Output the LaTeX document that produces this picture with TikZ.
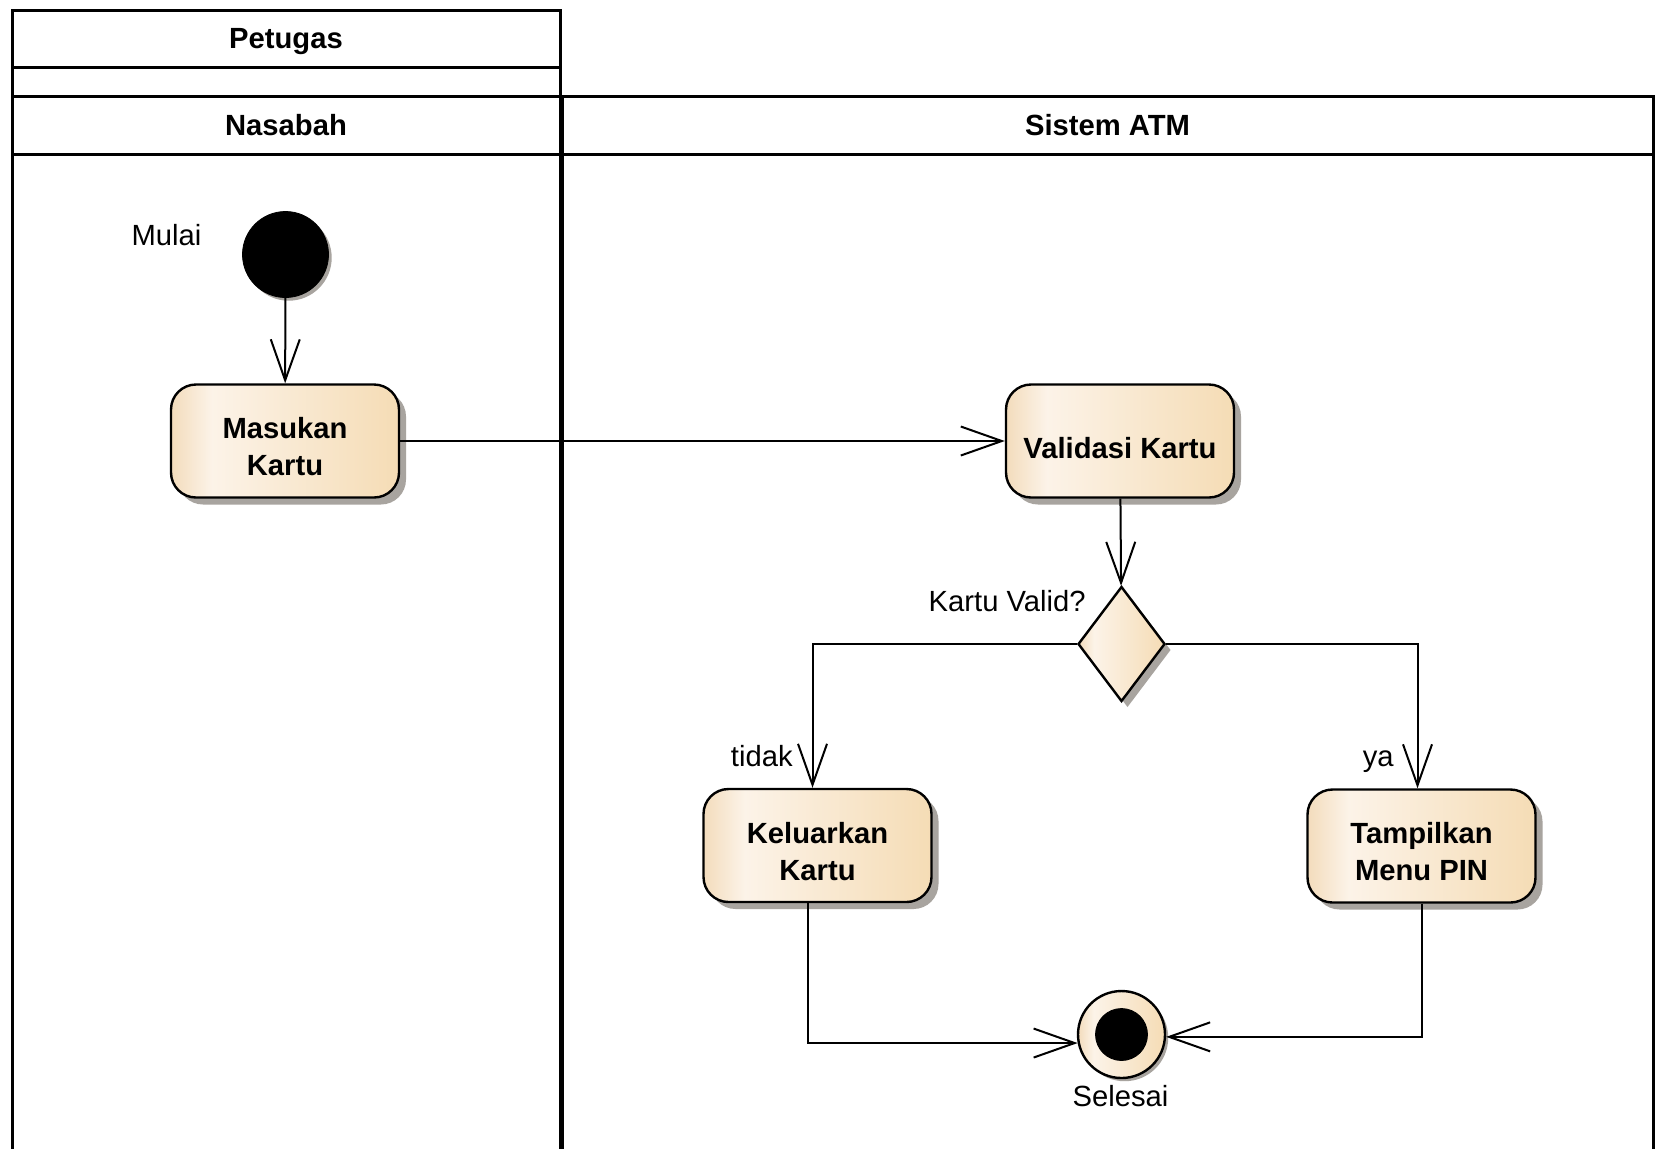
\documentclass[tikz,border=0pt]{standalone}
\usepackage{fontspec}
\setmainfont{Liberation Sans}
\usetikzlibrary{arrows.meta,shapes.geometric,shadows}

\definecolor{actleft}{RGB}{243,220,188}
\definecolor{acthigh}{RGB}{252,243,232}
\definecolor{actright}{RGB}{245,220,181}
\definecolor{shadowgray}{RGB}{168,164,159}
\pgfdeclarehorizontalshading{actfill}{100bp}{color(0bp)=(actleft); color(25bp)=(actleft); color(34bp)=(acthigh); color(75bp)=(actright); color(100bp)=(actright)}

\newcommand{\diagfont}{\fontsize{14.6pt}{18.5pt}\selectfont}

\tikzset{
  lane/.style={draw, line width=1.5pt},
  lanetitle/.style={font=\diagfont\bfseries, text height=10.5pt, text depth=0pt, inner sep=0pt},
  note/.style={font=\diagfont, inner sep=0pt},
  action/.style={draw, line width=1.2pt, rounded corners=12.5pt, shade, shading=actfill,
    minimum width=114pt, minimum height=56.5pt, inner sep=0pt,
    general shadow={fill=shadowgray, shadow xshift=3.5pt, shadow yshift=-3.5pt}},
  acttext/.style={align=center, inner sep=0pt, font=\diagfont\bfseries},
  decision/.style={diamond, draw, line width=1.2pt, shade, shading=actfill,
    minimum width=43.5pt, minimum height=57.5pt, inner sep=0pt,
    general shadow={fill=shadowgray, shadow xshift=3pt, shadow yshift=-3pt}},
  startnode/.style={circle, fill=black, draw=black, minimum size=43pt, inner sep=0pt,
    general shadow={fill=shadowgray, shadow xshift=1.6pt, shadow yshift=-1.6pt}},
  endouter/.style={circle, draw, line width=1.2pt, shade, shading=actfill, minimum size=43.5pt, inner sep=0pt,
    general shadow={fill=shadowgray, shadow xshift=1.6pt, shadow yshift=-1.6pt}},
  endinner/.style={circle, fill=black, draw=black, minimum size=26pt, inner sep=0pt},
  flow/.style={draw, line width=1pt, -{Straight Barb[length=20.5pt, width=14.5pt, line width=1pt]}}
}

\begin{document}
\begin{tikzpicture}[x=0.5pt, y=-0.5pt]
\useasboundingbox (0,0) rectangle (1657,1148);
\fill[white] (0,0) rectangle (1657,1148);

% swimlanes
\draw[lane] (12.7,10.6) rectangle (560,96);
\draw[lane] (12.7,67.6) -- (560,67.6);
\draw[lane] (12.7,96) rectangle (560,1170);
\draw[lane] (12.7,154) -- (560,154);
\draw[lane] (562,96) rectangle (1653,1170);
\draw[lane] (562,154) -- (1653,154);

\node[lanetitle] (lpetugas) at (286,38) {Petugas};
\node[lanetitle] (lnasabah) at (286,125) {Nasabah};
\node[lanetitle] (lsistem) at (1107.5,125) {Sistem ATM};

% activity nodes
\node[startnode] (start) at (285.5,254.5) {};
\node[note, anchor=base] (mulai) at (166.5,245) {Mulai};

\node[action] (mas) at (285,441) {};
\node[acttext] (mastext) at ([yshift=-3pt]mas.center) {Masukan\\Kartu};
\node[action] (val) at (1120,441) {};
\node[acttext] (valtext) at ([yshift=-3.6pt]val.center) {Validasi Kartu};
\node[decision] (dec) at (1121.5,644) {};
\node[note, anchor=base east] (decl) at (1086,611.7) {Kartu Valid?};

\node[action] (kel) at (817.5,845.5) {};
\node[acttext] (keltext) at ([yshift=-3pt]kel.center) {Keluarkan\\Kartu};
\node[action] (tam) at (1421.5,846) {};
\node[acttext] (tamtext) at ([yshift=-3pt]tam.center) {Tampilkan\\Menu PIN};

\node[endouter] (fin) at (1121.5,1034.5) {};
\node[endinner] (finin) at (fin.center) {};
\node[note, anchor=base] (selesai) at (1120.5,1106.7) {Selesai};

% guard labels
\node[note, anchor=base east] (gtidak) at (793,766.7) {tidak};
\node[note, anchor=base east] (gya) at (1394,766) {ya};

% control flow
\draw[flow] (start) -- (mas);
\draw[flow] (mas) -- (val);
\draw[flow] (val) -- (dec);
\draw[flow] (dec.west) -| ([xshift=-2.5pt]kel.north);
\draw[flow] (dec.east) -| ([xshift=-2pt]tam.north);
\draw[flow] ([xshift=-5pt]kel.south) |- (fin.191);
\draw[flow] (tam.south) |- (fin.357);
\end{tikzpicture}
\end{document}
